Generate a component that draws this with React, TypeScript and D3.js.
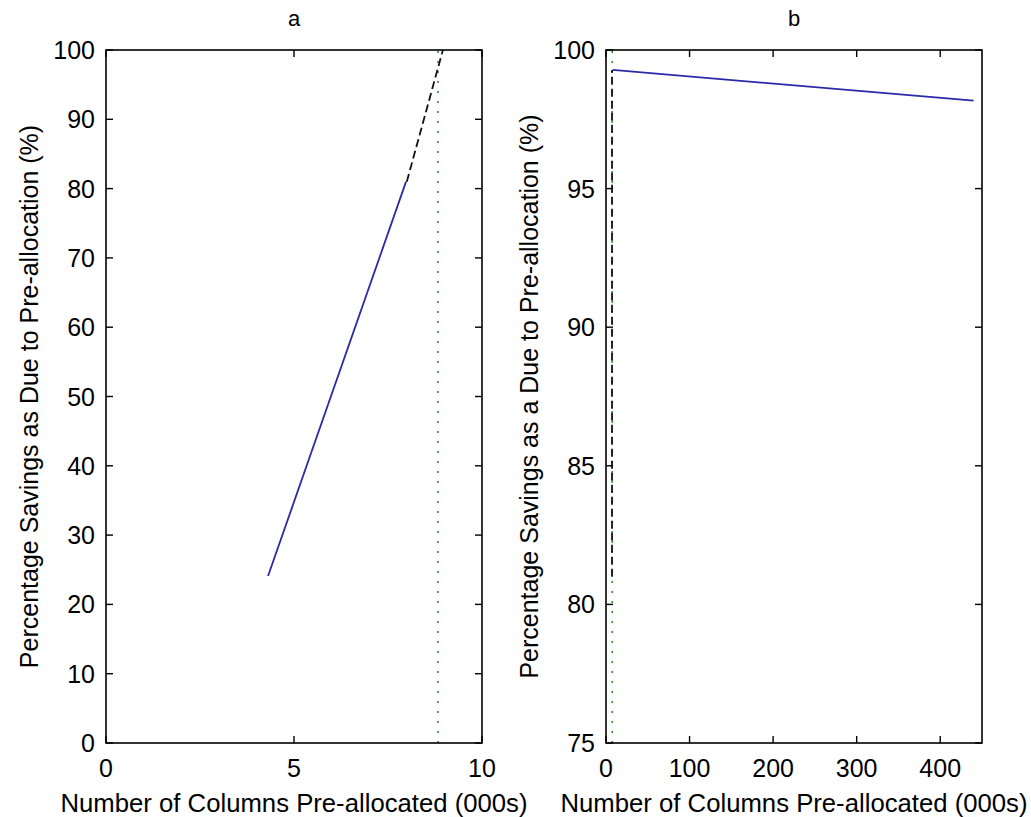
import React from "react";
import * as d3 from "d3";

// ---- data ----
const leftBlueX = [4.31, 7.98];
const leftBlueY = [24.1, 81.0];
const leftDashX = [8.0, 8.96];
const leftDashY = [81.0, 100];
const leftDottedX = 8.83;

const rightBlueX = [8, 440];
const rightBlueY = [99.28, 98.17];
const rightDashX = [7.2, 7.2];
const rightDashY = [81.0, 99.28];
const rightDottedX = 7.5;

const leftXTicks = [0, 5, 10];
const leftYTicks = [0, 10, 20, 30, 40, 50, 60, 70, 80, 90, 100];
const rightXTicks = [0, 100, 200, 300, 400];
const rightYTicks = [75, 80, 85, 90, 95, 100];

const titles = ["a", "b"];
const xLabel = "Number of Columns Pre-allocated (000s)";
const yLabels = [
  "Percentage Savings as Due to Pre-allocation (%)",
  "Percentage Savings as a Due to Pre-allocation (%)",
];

const FONT = "'Liberation Sans', Arial, sans-serif";
const FS = 25;

type PanelProps = {
  left: number;
  right: number;
  top: number;
  bottom: number;
  xDomain: [number, number];
  yDomain: [number, number];
  xTicks: number[];
  yTicks: number[];
  title: string;
  yLabel: string;
  blue: [number[], number[]];
  dash: [number[], number[]];
  dottedX: number;
};

function Panel(p: PanelProps) {
  const x = d3.scaleLinear().domain(p.xDomain).range([p.left, p.right]);
  const y = d3.scaleLinear().domain(p.yDomain).range([p.bottom, p.top]);
  const line = d3
    .line<[number, number]>()
    .x((d) => x(d[0]))
    .y((d) => y(d[1]));
  const bluePts = p.blue[0].map((v, i) => [v, p.blue[1][i]] as [number, number]);
  const dashPts = p.dash[0].map((v, i) => [v, p.dash[1][i]] as [number, number]);
  const dotPts: [number, number][] = [
    [p.dottedX, p.yDomain[0]],
    [p.dottedX, p.yDomain[1]],
  ];
  const tl = 7;
  const cx = (p.left + p.right) / 2;
  const cy = (p.top + p.bottom) / 2;
  return (
    <g fontFamily={FONT} fontSize={FS} fill="#000">
      <path d={line(dotPts) || ""} stroke="#2e8b2e" strokeWidth={1.6} strokeDasharray="2,8" fill="none" />
      <path d={line(bluePts) || ""} stroke="#2a2aa8" strokeWidth={1.8} fill="none" />
      <path d={line(dashPts) || ""} stroke="#111" strokeWidth={1.8} strokeDasharray="8,4" fill="none" />
      <rect x={p.left} y={p.top} width={p.right - p.left} height={p.bottom - p.top} fill="none" stroke="#000" strokeWidth={1.6} />
      {p.xTicks.map((t) => (
        <g key={"x" + t}>
          <line x1={x(t)} x2={x(t)} y1={p.bottom} y2={p.bottom - tl} stroke="#000" strokeWidth={1.4} />
          <line x1={x(t)} x2={x(t)} y1={p.top} y2={p.top + tl} stroke="#000" strokeWidth={1.4} />
          <text x={x(t)} y={p.bottom + 34} textAnchor="middle">{t}</text>
        </g>
      ))}
      {p.yTicks.map((t) => (
        <g key={"y" + t}>
          <line x1={p.left} x2={p.left + tl} y1={y(t)} y2={y(t)} stroke="#000" strokeWidth={1.4} />
          <line x1={p.right} x2={p.right - tl} y1={y(t)} y2={y(t)} stroke="#000" strokeWidth={1.4} />
          <text x={p.left - 11} y={y(t) + 9} textAnchor="end">{t}</text>
        </g>
      ))}
      <text x={cx} y={26} textAnchor="middle" fontSize={22}>{p.title}</text>
      <text x={cx} y={p.bottom + 69} textAnchor="middle" textLength={467} lengthAdjust="spacingAndGlyphs">{xLabel}</text>
      <text
        transform={`translate(${p.left - 68},${cy}) rotate(-90)`}
        textAnchor="middle"
      >
        {p.yLabel}
      </text>
    </g>
  );
}

export default function App() {
  return (
    <svg
      width={1031}
      height={817}
      style={{ position: "absolute", left: 0, top: 0, background: "#fff" }}
    >
      <rect x={0} y={0} width={1031} height={817} fill="#fff" />
      <Panel
        left={106}
        right={482}
        top={50}
        bottom={743}
        xDomain={[0, 10]}
        yDomain={[0, 100]}
        xTicks={leftXTicks}
        yTicks={leftYTicks}
        title={titles[0]}
        yLabel={yLabels[0]}
        blue={[leftBlueX, leftBlueY]}
        dash={[leftDashX, leftDashY]}
        dottedX={leftDottedX}
      />
      <Panel
        left={606}
        right={982}
        top={50}
        bottom={743}
        xDomain={[0, 450]}
        yDomain={[75, 100]}
        xTicks={rightXTicks}
        yTicks={rightYTicks}
        title={titles[1]}
        yLabel={yLabels[1]}
        blue={[rightBlueX, rightBlueY]}
        dash={[rightDashX, rightDashY]}
        dottedX={rightDottedX}
      />
    </svg>
  );
}
